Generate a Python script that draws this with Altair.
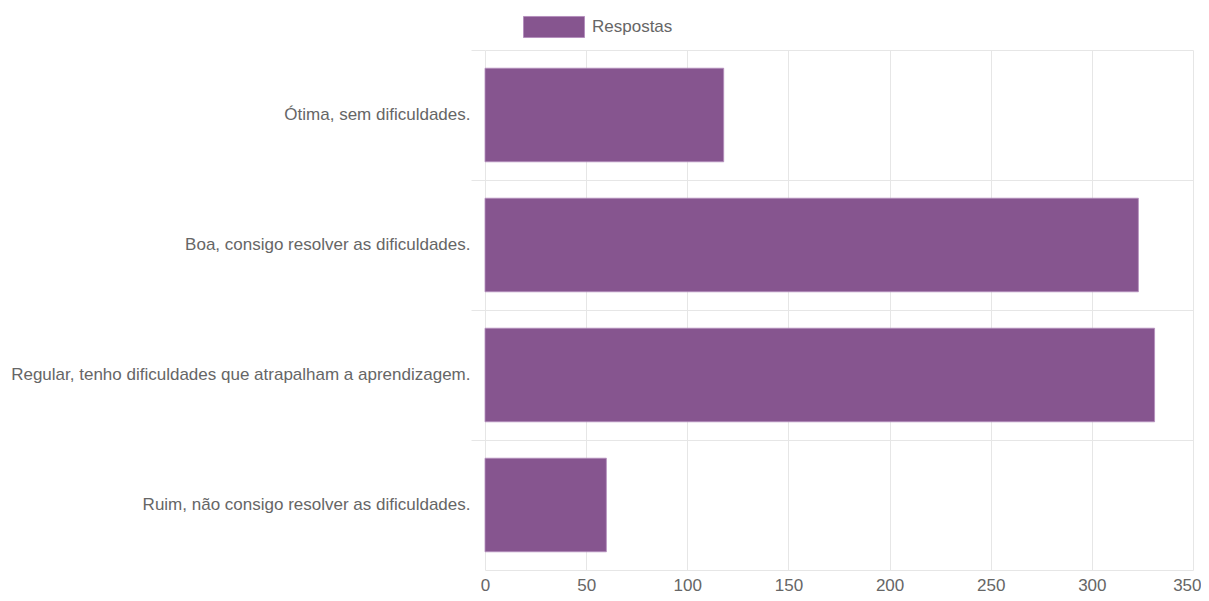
import altair as alt
import pandas as pd

categorias = [
    "Ótima, sem dificuldades.",
    "Boa, consigo resolver as dificuldades.",
    "Regular, tenho dificuldades que atrapalham a aprendizagem.",
    "Ruim, não consigo resolver as dificuldades.",
]
respostas = [118, 323, 331, 60]
serie = ["Respostas"] * len(categorias)
x_ticks = [0, 50, 100, 150, 200, 250, 300, 350]

df = pd.DataFrame({"categoria": categorias, "valor": respostas, "serie": serie})

FONT = "Liberation Sans"
GRID = "#e6e6e6"
LABEL = "#666666"
BAR = "#86558f"

chart = (
    alt.Chart(df)
    .mark_bar(stroke="#b48fbd", strokeWidth=1, strokeOpacity=0.8)
    .encode(
        x=alt.X(
            "valor:Q",
            scale=alt.Scale(domain=[0, 350], nice=False),
            axis=alt.Axis(
                values=x_ticks,
                title=None,
                grid=True,
                gridColor=GRID,
                domain=True,
                domainColor=GRID,
                ticks=False,
                labelFlush=False,
                labelAlign={"condition": {"test": "datum.value == 350", "value": "right"}, "value": "center"},
                labelOffset={"condition": {"test": "datum.value == 350", "value": 8}, "value": 0},
                labelPadding=7,
                labelFont=FONT,
                labelFontSize=17,
                labelColor=LABEL,
            ),
        ),
        y=alt.Y(
            "categoria:N",
            sort=categorias,
            scale=alt.Scale(paddingInner=0.28, paddingOuter=0.14),
            axis=alt.Axis(
                title=None,
                grid=True,
                gridColor=GRID,
                bandPosition=-0.1944,
                tickColor=GRID,
                tickSize=14,
                domain=False,
                labelPadding=1,
                labelFont=FONT,
                labelFontSize=17,
                labelColor=LABEL,
                labelLimit=600,
            ),
        ),
        color=alt.Color(
            "serie:N",
            scale=alt.Scale(range=[BAR]),
            legend=alt.Legend(
                title=None,
                orient="none",
                legendX=38,
                legendY=-54,
                padding=0,
                symbolType="M-1,-0.345H1V0.345H-1Z",
                symbolSize=3721,
                symbolStrokeColor="#b48fbd",
                symbolStrokeWidth=1,
                symbolOpacity=1,
                labelOffset=7,
                labelFont=FONT,
                labelFontSize=17,
                labelColor=LABEL,
            ),
        ),
    )
    .properties(
        width=708,
        height=520,
        autosize=alt.AutoSizeParams(type="none"),
        padding={"left": 477, "top": 42, "right": 8, "bottom": 23},
    )
    .configure_view(stroke=None)
)

chart.save("out.html", embed_options={"renderer": "svg", "actions": False})
